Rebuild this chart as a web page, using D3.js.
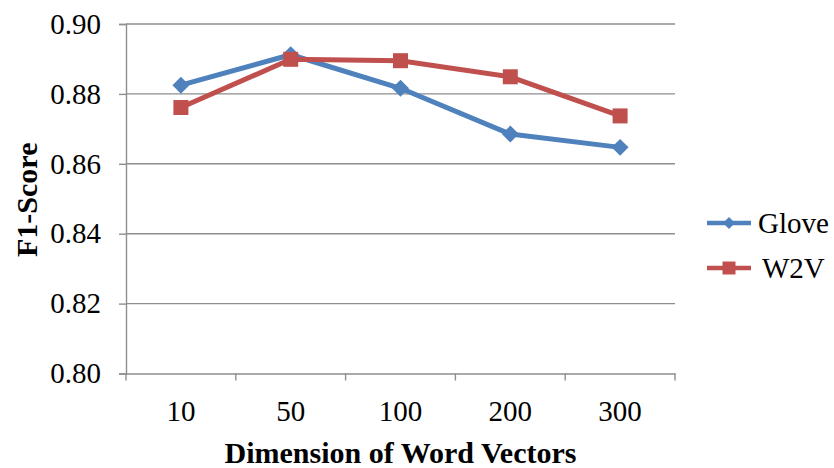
<!DOCTYPE html>
<html>
<head>
<meta charset="utf-8">
<script src="https://cdn.jsdelivr.net/npm/d3@7"></script>
<style>
  html, body { margin: 0; padding: 0; background: #ffffff; }
  svg { display: block; }
</style>
</head>
<body>
<script>
// ---- data ----
const categories = ["10", "50", "100", "200", "300"];
const gloveValues = [0.8825, 0.8912, 0.8816, 0.8685, 0.8647];
const w2vValues = [0.8761, 0.8899, 0.8895, 0.8849, 0.8737];
const seriesNames = ["Glove", "W2V"];
const yTicks = [0.80, 0.82, 0.84, 0.86, 0.88, 0.90];
const xTitle = "Dimension of Word Vectors";
const yTitle = "F1-Score";

const W = 834, H = 468;
const FONT = "Liberation Serif";
const colors = ["#4F81BD", "#C0504D"];
const gridColor = "#8e8e8e";

const svg = d3.select("body").append("svg").attr("width", W).attr("height", H);

const plot = { left: 126, right: 675, top: 24, bottom: 373.5 };

const x = d3.scaleBand().domain(categories).range([plot.left, plot.right]).padding(0);
const y = d3.scaleLinear().domain([0.80, 0.90]).range([plot.bottom, plot.top]);

// gridlines
svg.append("g").selectAll("line")
  .data(yTicks.filter(d => d > 0.80))
  .join("line")
  .attr("x1", plot.left).attr("x2", plot.right)
  .attr("y1", d => y(d)).attr("y2", d => y(d))
  .attr("stroke", gridColor).attr("stroke-width", 1.4);

// y axis
const yAxis = svg.append("g")
  .attr("transform", `translate(${plot.left},0)`)
  .call(d3.axisLeft(y).tickValues(yTicks).tickFormat(d3.format(".2f")).tickSize(7).tickPadding(18));
yAxis.attr("font-family", FONT).attr("font-size", 29);
yAxis.select(".domain").attr("stroke", gridColor).attr("stroke-width", 1.4);
yAxis.selectAll(".tick line").attr("stroke", gridColor).attr("stroke-width", 1.4);
yAxis.selectAll(".tick text").attr("font-family", FONT).attr("font-size", 29).attr("fill", "#000");

// x axis (labels at band centers, ticks at band boundaries)
const xAxis = svg.append("g")
  .attr("transform", `translate(0,${plot.bottom})`)
  .call(d3.axisBottom(x).tickSize(0).tickPadding(27).tickSizeOuter(0));
xAxis.attr("font-family", FONT).attr("font-size", 29);
xAxis.select(".domain").attr("stroke", gridColor).attr("stroke-width", 1.4);
xAxis.selectAll(".tick text").attr("font-family", FONT).attr("font-size", 29).attr("fill", "#000");
const boundaries = categories.map(c => x(c)).concat([x(categories[categories.length - 1]) + x.bandwidth()]);
xAxis.selectAll(".bnd").data(boundaries).join("line")
  .attr("class", "bnd")
  .attr("x1", d => d).attr("x2", d => d)
  .attr("y1", 0).attr("y2", 7)
  .attr("stroke", gridColor).attr("stroke-width", 1.4);

// axis titles
svg.append("text")
  .attr("x", (plot.left + plot.right) / 2)
  .attr("y", 463)
  .attr("text-anchor", "middle")
  .attr("font-family", FONT)
  .attr("font-size", 30).attr("font-weight", "bold")
  .text(xTitle);

svg.append("text")
  .attr("transform", `translate(37,${(plot.top + plot.bottom) / 2 + 1}) rotate(-90)`)
  .attr("text-anchor", "middle")
  .attr("font-family", FONT)
  .attr("font-size", 30).attr("font-weight", "bold")
  .text(yTitle);

// markers: diamond = square rotated 45°
function marker(si, big) {
  if (si === 0) return { d: d3.symbol().type(d3.symbolSquare).size(big ? 144 : 72)(), rot: 45 };
  return { d: d3.symbol().type(d3.symbolSquare).size(big ? 225 : 169)(), rot: 0 };
}

// series
const series = [gloveValues, w2vValues];
const line = d3.line().x((d, i) => x(categories[i]) + x.bandwidth() / 2).y(d => y(d));

series.forEach((vals, si) => {
  const g = svg.append("g");
  g.append("path").datum(vals)
    .attr("d", line)
    .attr("fill", "none")
    .attr("stroke", colors[si])
    .attr("stroke-width", 5)
    .attr("stroke-linejoin", "round");
  const m = marker(si, true);
  g.selectAll("path.m").data(vals).join("path")
    .attr("class", "m")
    .attr("transform", (d, i) => `translate(${x(categories[i]) + x.bandwidth() / 2},${y(d)}) rotate(${m.rot})`)
    .attr("d", m.d)
    .attr("fill", colors[si]);
});

// legend
const legendY = [223, 268];
seriesNames.forEach((name, si) => {
  const g = svg.append("g").attr("transform", `translate(0,${legendY[si]})`);
  g.append("line").attr("x1", 707).attr("x2", 751).attr("y1", 0).attr("y2", 0)
    .attr("stroke", colors[si]).attr("stroke-width", 4.5);
  const m = marker(si, false);
  g.append("path")
    .attr("transform", `translate(729,0) rotate(${m.rot})`)
    .attr("d", m.d)
    .attr("fill", colors[si]);
  g.append("text")
    .attr("x", si === 0 ? 758 : 762)
    .attr("y", 10)
    .attr("font-family", FONT)
    .attr("font-size", 29)
    .text(name);
});
</script>
</body>
</html>
